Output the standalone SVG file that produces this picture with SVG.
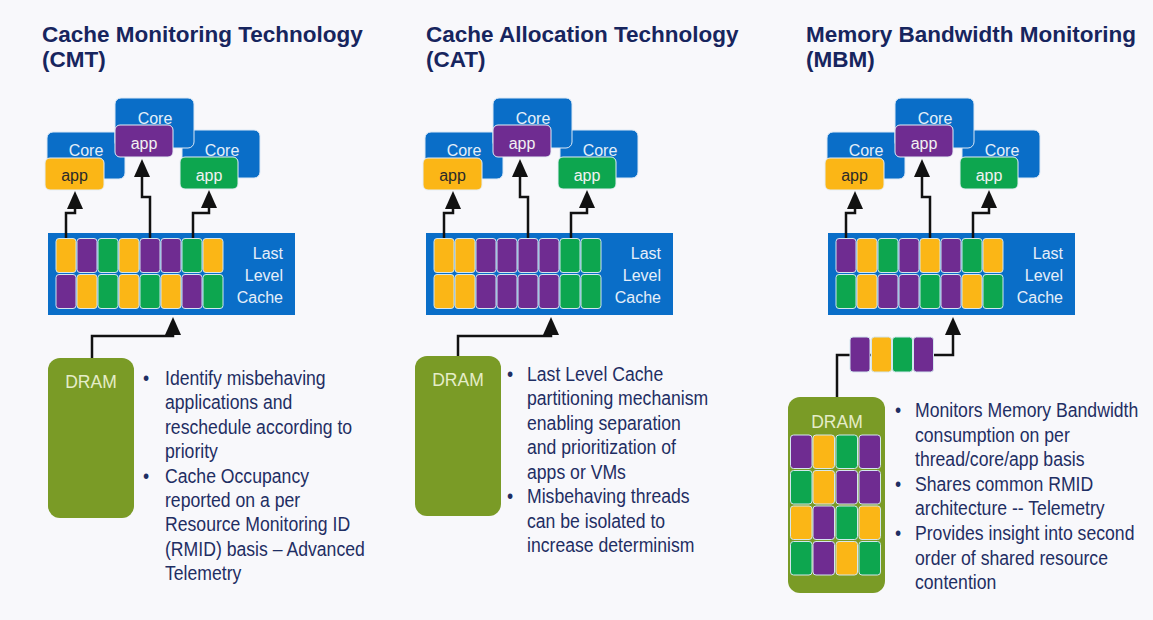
<svg xmlns="http://www.w3.org/2000/svg" width="1153" height="620" viewBox="0 0 1153 620">
<defs>
<style>
.bg{fill:#f8f8fb}
.title{font-family:"Liberation Sans",Arial,sans-serif;font-weight:bold;font-size:22.5px;fill:#17255e}
.corebox{fill:#0a6ec8;stroke:#dbe8f5;stroke-width:1}
.core{font-family:"Liberation Sans",Arial,sans-serif;font-size:16px;fill:#e4eef9;text-anchor:middle}
.app{font-family:"Liberation Sans",Arial,sans-serif;font-size:16px;text-anchor:middle}
.ad{fill:#2a2a2a}
.al{fill:#f2f2f2}
.llcbox{fill:#0a6ec8}
.llc{font-family:"Liberation Sans",Arial,sans-serif;font-size:16px;fill:#e6eef9;text-anchor:end}
.y{fill:#fbb616}
.p{fill:#6f2c91}
.g{fill:#0da64f}
.cell{stroke:#d3e6ee;stroke-width:1}
.appbox{stroke:#e6eef5;stroke-width:1}
.drambox{fill:#7a9b26}
.dram{font-family:"Liberation Sans",Arial,sans-serif;font-size:17.5px;fill:#e5edc8;text-anchor:middle}
.body{font-family:"Liberation Sans",Arial,sans-serif;font-size:21px;fill:#1f2e63}
.bul{text-anchor:middle}
.conn{fill:none;stroke:#111;stroke-width:2.5;marker-end:url(#ah)}
</style>
<marker id="ah" markerUnits="userSpaceOnUse" markerWidth="18" markerHeight="16" viewBox="0 0 18 16" refX="1" refY="8" orient="auto">
<path d="M0,0 L18,8 L0,16 z" fill="#111"/>
</marker>
</defs>
<rect class="bg" x="0" y="0" width="1153" height="620"/>

<!-- Titles -->
<g id="title-cmt"><text class="title" x="42" y="42">Cache Monitoring Technology</text><text class="title" x="42" y="67">(CMT)</text></g>
<g id="title-cat"><text class="title" x="426" y="42">Cache Allocation Technology</text><text class="title" x="426" y="67">(CAT)</text></g>
<g id="title-mbm"><text class="title" x="806" y="42">Memory Bandwidth Monitoring</text><text class="title" x="806" y="67">(MBM)</text></g>

<!-- Panel 1 CMT -->
<g id="cmt-core-left"><rect class="corebox" x="47" y="132" width="78" height="47" rx="6"/><text class="core" x="86" y="156">Core</text></g>
<g id="cmt-core-right"><rect class="corebox" x="182" y="130" width="78" height="48" rx="6"/><text class="core" x="222" y="156">Core</text></g>
<g id="cmt-core-mid"><rect class="corebox" x="115" y="98" width="79" height="50" rx="6"/><text class="core" x="155" y="124">Core</text></g>
<g id="cmt-app-yellow"><rect class="appbox y" x="45" y="158" width="59" height="32" rx="5"/><text class="app ad" x="74.5" y="181">app</text></g>
<g id="cmt-app-purple"><rect class="appbox p" x="115" y="125" width="58" height="32" rx="5"/><text class="app al" x="144" y="149">app</text></g>
<g id="cmt-app-green"><rect class="appbox g" x="180" y="157" width="58" height="32" rx="5"/><text class="app al" x="209" y="181">app</text></g>
<g id="cmt-llc">
<rect class="llcbox" x="48" y="233" width="247" height="82"/>
<rect class="cell y" x="56" y="238.5" width="20" height="34" rx="3"/>
<rect class="cell p" x="77" y="238.5" width="20" height="34" rx="3"/>
<rect class="cell g" x="98" y="238.5" width="20" height="34" rx="3"/>
<rect class="cell y" x="119" y="238.5" width="20" height="34" rx="3"/>
<rect class="cell p" x="140" y="238.5" width="20" height="34" rx="3"/>
<rect class="cell p" x="161" y="238.5" width="20" height="34" rx="3"/>
<rect class="cell g" x="182" y="238.5" width="20" height="34" rx="3"/>
<rect class="cell y" x="203" y="238.5" width="20" height="34" rx="3"/>
<rect class="cell p" x="56" y="274.5" width="20" height="34" rx="3"/>
<rect class="cell y" x="77" y="274.5" width="20" height="34" rx="3"/>
<rect class="cell g" x="98" y="274.5" width="20" height="34" rx="3"/>
<rect class="cell y" x="119" y="274.5" width="20" height="34" rx="3"/>
<rect class="cell g" x="140" y="274.5" width="20" height="34" rx="3"/>
<rect class="cell y" x="161" y="274.5" width="20" height="34" rx="3"/>
<rect class="cell p" x="182" y="274.5" width="20" height="34" rx="3"/>
<rect class="cell g" x="203" y="274.5" width="20" height="34" rx="3"/>
<text class="llc" x="283" y="258.5">Last</text><text class="llc" x="283" y="281">Level</text><text class="llc" x="283" y="303">Cache</text>
</g>
<g id="cmt-dram"><rect class="drambox" x="48" y="358" width="86" height="160" rx="12"/><text class="dram" x="91" y="388">DRAM</text></g>
<g id="cmt-text" class="body" transform="translate(165,0) scale(0.84,1)">
<text class="bul" x="-22.6" y="385">•</text>
<text x="0" y="385">Identify misbehaving</text>
<text x="0" y="409.4">applications and</text>
<text x="0" y="433.8">reschedule according to</text>
<text x="0" y="458.2">priority</text>
<text class="bul" x="-22.6" y="482.6">•</text>
<text x="0" y="482.6">Cache Occupancy</text>
<text x="0" y="507">reported on a per</text>
<text x="0" y="531.4">Resource Monitoring ID</text>
<text x="0" y="555.8">(RMID) basis – Advanced</text>
<text x="0" y="580.2">Telemetry</text>
</g>

<!-- Panel 2 CAT -->
<g id="cat-core-left"><rect class="corebox" x="425" y="132" width="78" height="47" rx="6"/><text class="core" x="464" y="156">Core</text></g>
<g id="cat-core-right"><rect class="corebox" x="560" y="130" width="78" height="48" rx="6"/><text class="core" x="600" y="156">Core</text></g>
<g id="cat-core-mid"><rect class="corebox" x="493" y="98" width="79" height="50" rx="6"/><text class="core" x="533" y="124">Core</text></g>
<g id="cat-app-yellow"><rect class="appbox y" x="423" y="158" width="59" height="32" rx="5"/><text class="app ad" x="452.5" y="181">app</text></g>
<g id="cat-app-purple"><rect class="appbox p" x="493" y="125" width="58" height="32" rx="5"/><text class="app al" x="522" y="149">app</text></g>
<g id="cat-app-green"><rect class="appbox g" x="558" y="157" width="58" height="32" rx="5"/><text class="app al" x="587" y="181">app</text></g>
<g id="cat-llc">
<rect class="llcbox" x="426" y="233" width="247" height="82"/>
<rect class="cell y" x="434" y="238.5" width="20" height="34" rx="3"/>
<rect class="cell y" x="455" y="238.5" width="20" height="34" rx="3"/>
<rect class="cell p" x="476" y="238.5" width="20" height="34" rx="3"/>
<rect class="cell p" x="497" y="238.5" width="20" height="34" rx="3"/>
<rect class="cell p" x="518" y="238.5" width="20" height="34" rx="3"/>
<rect class="cell p" x="539" y="238.5" width="20" height="34" rx="3"/>
<rect class="cell g" x="560" y="238.5" width="20" height="34" rx="3"/>
<rect class="cell g" x="581" y="238.5" width="20" height="34" rx="3"/>
<rect class="cell y" x="434" y="274.5" width="20" height="34" rx="3"/>
<rect class="cell y" x="455" y="274.5" width="20" height="34" rx="3"/>
<rect class="cell p" x="476" y="274.5" width="20" height="34" rx="3"/>
<rect class="cell p" x="497" y="274.5" width="20" height="34" rx="3"/>
<rect class="cell p" x="518" y="274.5" width="20" height="34" rx="3"/>
<rect class="cell p" x="539" y="274.5" width="20" height="34" rx="3"/>
<rect class="cell g" x="560" y="274.5" width="20" height="34" rx="3"/>
<rect class="cell g" x="581" y="274.5" width="20" height="34" rx="3"/>
<text class="llc" x="661" y="258.5">Last</text><text class="llc" x="661" y="281">Level</text><text class="llc" x="661" y="303">Cache</text>
</g>
<g id="cat-dram"><rect class="drambox" x="415" y="356" width="86" height="160" rx="12"/><text class="dram" x="458" y="386">DRAM</text></g>
<g id="cat-text" class="body" transform="translate(527,0) scale(0.84,1)">
<text class="bul" x="-20.2" y="381">•</text>
<text x="0" y="381">Last Level Cache</text>
<text x="0" y="405.5">partitioning mechanism</text>
<text x="0" y="430">enabling separation</text>
<text x="0" y="454.5">and prioritization of</text>
<text x="0" y="479">apps or VMs</text>
<text class="bul" x="-20.2" y="503.5">•</text>
<text x="0" y="503.5">Misbehaving threads</text>
<text x="0" y="528">can be isolated to</text>
<text x="0" y="552.5">increase determinism</text>
</g>

<!-- Panel 3 MBM -->
<g id="mbm-core-left"><rect class="corebox" x="827" y="132" width="78" height="47" rx="6"/><text class="core" x="866" y="156">Core</text></g>
<g id="mbm-core-right"><rect class="corebox" x="962" y="130" width="78" height="48" rx="6"/><text class="core" x="1002" y="156">Core</text></g>
<g id="mbm-core-mid"><rect class="corebox" x="895" y="98" width="79" height="50" rx="6"/><text class="core" x="935" y="124">Core</text></g>
<g id="mbm-app-yellow"><rect class="appbox y" x="825" y="158" width="59" height="32" rx="5"/><text class="app ad" x="854.5" y="181">app</text></g>
<g id="mbm-app-purple"><rect class="appbox p" x="895" y="125" width="58" height="32" rx="5"/><text class="app al" x="924" y="149">app</text></g>
<g id="mbm-app-green"><rect class="appbox g" x="960" y="157" width="58" height="32" rx="5"/><text class="app al" x="989" y="181">app</text></g>
<g id="mbm-llc">
<rect class="llcbox" x="828" y="233" width="247" height="82"/>
<rect class="cell p" x="836" y="238.5" width="20" height="34" rx="3"/>
<rect class="cell y" x="857" y="238.5" width="20" height="34" rx="3"/>
<rect class="cell g" x="878" y="238.5" width="20" height="34" rx="3"/>
<rect class="cell p" x="899" y="238.5" width="20" height="34" rx="3"/>
<rect class="cell y" x="920" y="238.5" width="20" height="34" rx="3"/>
<rect class="cell p" x="941" y="238.5" width="20" height="34" rx="3"/>
<rect class="cell g" x="962" y="238.5" width="20" height="34" rx="3"/>
<rect class="cell y" x="983" y="238.5" width="20" height="34" rx="3"/>
<rect class="cell g" x="836" y="274.5" width="20" height="34" rx="3"/>
<rect class="cell y" x="857" y="274.5" width="20" height="34" rx="3"/>
<rect class="cell p" x="878" y="274.5" width="20" height="34" rx="3"/>
<rect class="cell p" x="899" y="274.5" width="20" height="34" rx="3"/>
<rect class="cell g" x="920" y="274.5" width="20" height="34" rx="3"/>
<rect class="cell p" x="941" y="274.5" width="20" height="34" rx="3"/>
<rect class="cell y" x="962" y="274.5" width="20" height="34" rx="3"/>
<rect class="cell g" x="983" y="274.5" width="20" height="34" rx="3"/>
<text class="llc" x="1063" y="258.5">Last</text><text class="llc" x="1063" y="281">Level</text><text class="llc" x="1063" y="303">Cache</text>
</g>
<g id="mbm-dram">
<rect class="drambox" x="788" y="397" width="97" height="196" rx="12"/>
<text class="dram" x="837" y="428">DRAM</text>
<rect class="cell p" x="790.5" y="435" width="21.5" height="33.5" rx="3"/>
<rect class="cell y" x="813" y="435" width="21.5" height="33.5" rx="3"/>
<rect class="cell g" x="836" y="435" width="21.5" height="33.5" rx="3"/>
<rect class="cell p" x="859" y="435" width="21.5" height="33.5" rx="3"/>
<rect class="cell g" x="790.5" y="470.5" width="21.5" height="33.5" rx="3"/>
<rect class="cell y" x="813" y="470.5" width="21.5" height="33.5" rx="3"/>
<rect class="cell p" x="836" y="470.5" width="21.5" height="33.5" rx="3"/>
<rect class="cell p" x="859" y="470.5" width="21.5" height="33.5" rx="3"/>
<rect class="cell y" x="790.5" y="506" width="21.5" height="33.5" rx="3"/>
<rect class="cell p" x="813" y="506" width="21.5" height="33.5" rx="3"/>
<rect class="cell g" x="836" y="506" width="21.5" height="33.5" rx="3"/>
<rect class="cell y" x="859" y="506" width="21.5" height="33.5" rx="3"/>
<rect class="cell g" x="790.5" y="541.5" width="21.5" height="33.5" rx="3"/>
<rect class="cell p" x="813" y="541.5" width="21.5" height="33.5" rx="3"/>
<rect class="cell y" x="836" y="541.5" width="21.5" height="33.5" rx="3"/>
<rect class="cell g" x="859" y="541.5" width="21.5" height="33.5" rx="3"/>
</g>
<g id="mbm-text" class="body" transform="translate(915,0) scale(0.84,1)">
<text class="bul" x="-20.2" y="417">•</text>
<text x="0" y="417">Monitors Memory Bandwidth</text>
<text x="0" y="441.6">consumption on per</text>
<text x="0" y="466.2">thread/core/app basis</text>
<text class="bul" x="-20.2" y="490.8">•</text>
<text x="0" y="490.8">Shares common RMID</text>
<text x="0" y="515.4">architecture -- Telemetry</text>
<text class="bul" x="-20.2" y="540">•</text>
<text x="0" y="540">Provides insight into second</text>
<text x="0" y="564.6">order of shared resource</text>
<text x="0" y="589.2">contention</text>
</g>

<!-- Connectors -->
<g id="connectors">
<path class="conn" d="M66,238 V213 H75 V208"/>
<path class="conn" d="M150,238 V197 H142 V176"/>
<path class="conn" d="M193,238 V213 H209 V207"/>
<path class="conn" d="M92,358 V336 H173 V334"/>
<path class="conn" d="M444,238 V213 H453 V208"/>
<path class="conn" d="M528,238 V197 H520 V176"/>
<path class="conn" d="M571,238 V213 H587 V207"/>
<path class="conn" d="M458,356 V336 H551 V334"/>
<path class="conn" d="M846,238 V213 H855 V208"/>
<path class="conn" d="M930,238 V197 H922 V176"/>
<path class="conn" d="M973,238 V213 H989 V207"/>
<path class="conn" d="M837,397 V355 H953 V334"/>
</g>

<g id="mbm-traffic">
<rect class="cell p" x="850" y="337" width="20" height="35" rx="3"/>
<rect class="cell y" x="871.5" y="337" width="20" height="35" rx="3"/>
<rect class="cell g" x="892.5" y="337" width="20" height="35" rx="3"/>
<rect class="cell p" x="913.5" y="337" width="20" height="35" rx="3"/>
</g>
</svg>
